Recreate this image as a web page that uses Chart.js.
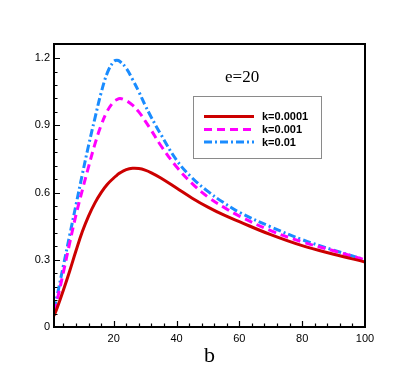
<!DOCTYPE html>
<html><head><meta charset="utf-8">
<script src="https://cdn.jsdelivr.net/npm/chart.js@4"></script>
<style>html,body{margin:0;padding:0;background:#fff}#wrap{width:415px;height:369px}</style>
</head><body><div id="wrap"><canvas id="c" width="415" height="369"></canvas></div>
<script>
const bValues = [1, 2, 4, 6, 8, 10, 12, 14, 16, 18, 20, 21, 22, 24, 26, 28, 30, 32, 35, 40, 45, 50, 55, 60, 70, 80, 90, 100];
const k0001 = [0.05, 0.085, 0.165, 0.25, 0.34, 0.425, 0.495, 0.553, 0.60, 0.637, 0.665, 0.677, 0.688, 0.702, 0.708, 0.707, 0.70, 0.688, 0.665, 0.62, 0.575, 0.535, 0.50, 0.47, 0.412, 0.363, 0.325, 0.29];
const k001 = [0.07, 0.12, 0.245, 0.375, 0.50, 0.61, 0.715, 0.815, 0.90, 0.965, 1.005, 1.015, 1.02, 1.01, 0.99, 0.96, 0.92, 0.877, 0.81, 0.715, 0.64, 0.58, 0.535, 0.495, 0.43, 0.38, 0.34, 0.30];
const k01 = [0.08, 0.14, 0.275, 0.41, 0.545, 0.68, 0.81, 0.93, 1.045, 1.135, 1.185, 1.19, 1.185, 1.155, 1.105, 1.05, 0.99, 0.935, 0.86, 0.745, 0.665, 0.605, 0.555, 0.512, 0.447, 0.39, 0.343, 0.30];
const seriesLabels = ['k=0.0001', 'k=0.001', 'k=0.01'];
const xTicks = [20, 40, 60, 80, 100];
const yTicks = [0, 0.3, 0.6, 0.9, 1.2];
const xMinorStep = 4;
const yMinorStep = 0.06;

const mk = (arr) => bValues.map((b, i) => ({x: b, y: arr[i]}));

const frameAndTicks = {
  id: 'frameAndTicks',
  afterDatasetsDraw(chart) {
    const {ctx, chartArea: a, scales: {x, y}} = chart;
    ctx.save();
    ctx.strokeStyle = '#000';
    ctx.lineWidth = 1.2;
    ctx.beginPath();
    for (let v = xMinorStep; v < 100; v += xMinorStep) {
      const px = Math.round(x.getPixelForValue(v)) + 0.5;
      const major = xTicks.includes(v);
      ctx.moveTo(px, a.bottom);
      ctx.lineTo(px, a.bottom - (major ? 6 : 3.5));
    }
    for (let i = 1; i * yMinorStep < 1.26; i++) {
      const v = i * yMinorStep;
      const py = Math.round(y.getPixelForValue(v)) + 0.5;
      const major = i % 5 === 0;
      ctx.moveTo(a.left, py);
      ctx.lineTo(a.left + (major ? 6 : 3.5), py);
    }
    ctx.stroke();
    ctx.lineWidth = 2;
    ctx.strokeRect(a.left, a.top, a.right - a.left, a.bottom - a.top);
    // annotation text
    ctx.fillStyle = '#000';
    ctx.font = '17px "Liberation Serif", "Times New Roman", serif';
    ctx.textBaseline = 'alphabetic';
    ctx.textAlign = 'left';
    ctx.fillText('e=20', 225, 82);
    // legend box
    ctx.fillStyle = '#fff';
    ctx.fillRect(193.5, 96.5, 128, 62);
    ctx.strokeStyle = '#8a8a8a';
    ctx.lineWidth = 1;
    ctx.strokeRect(193.5, 96.5, 128, 62);
    const rows = [116.5, 129.5, 142];
    chart.data.datasets.forEach((ds, i) => {
      ctx.strokeStyle = ds.borderColor;
      ctx.lineWidth = ds.borderWidth;
      ctx.setLineDash(ds.borderDash || []);
      ctx.beginPath();
      ctx.moveTo(204, rows[i]);
      ctx.lineTo(254, rows[i]);
      ctx.stroke();
      ctx.setLineDash([]);
      ctx.fillStyle = '#000';
      ctx.font = 'bold 11px "Liberation Sans", Arial, sans-serif';
      ctx.textBaseline = 'middle';
      ctx.fillText(ds.label, 262, rows[i] + 0.5);
    });
    ctx.restore();
  }
};

new Chart(document.getElementById('c'), {
  type: 'line',
  data: {
    datasets: [
      {label: seriesLabels[0], data: mk(k0001), borderColor: '#cc0000', borderWidth: 3, pointRadius: 0, tension: 0.4, fill: false},
      {label: seriesLabels[1], data: mk(k001), borderColor: '#ff00ff', borderWidth: 3, borderDash: [8, 5], pointRadius: 0, tension: 0.4, fill: false},
      {label: seriesLabels[2], data: mk(k01), borderColor: '#1a8cff', borderWidth: 3, borderDash: [8, 3, 2, 3], pointRadius: 0, tension: 0.4, fill: false}
    ]
  },
  options: {
    responsive: false,
    animation: false,
    devicePixelRatio: 1,
    layout: {padding: {top: 44, right: 50, left: 0, bottom: 0}},
    plugins: {legend: {display: false}, tooltip: {enabled: false}},
    scales: {
      x: {
        type: 'linear', min: 1, max: 100,
        afterBuildTicks: (s) => { s.ticks = xTicks.map(v => ({value: v})); },
        afterFit: (s) => { s.height = 42; },
        grid: {display: false, drawTicks: false},
        border: {display: false},
        ticks: {color: '#000', padding: 5, maxRotation: 0, font: {family: '"Liberation Sans", Arial, sans-serif', size: 11}, callback: (v) => String(v)},
        title: {display: true, text: 'b', color: '#000', padding: {top: 0, bottom: 0}, font: {family: '"Liberation Serif", "Times New Roman", serif', size: 22}}
      },
      y: {
        type: 'linear', min: 0, max: 1.263,
        afterBuildTicks: (s) => { s.ticks = yTicks.map(v => ({value: v})); },
        afterFit: (s) => { s.width = 54; },
        grid: {display: false, drawTicks: false},
        border: {display: false},
        ticks: {color: '#000', padding: 4, font: {family: '"Liberation Sans", Arial, sans-serif', size: 11}, callback: (v) => String(v)}
      }
    }
  },
  plugins: [frameAndTicks]
});
</script></body></html>
